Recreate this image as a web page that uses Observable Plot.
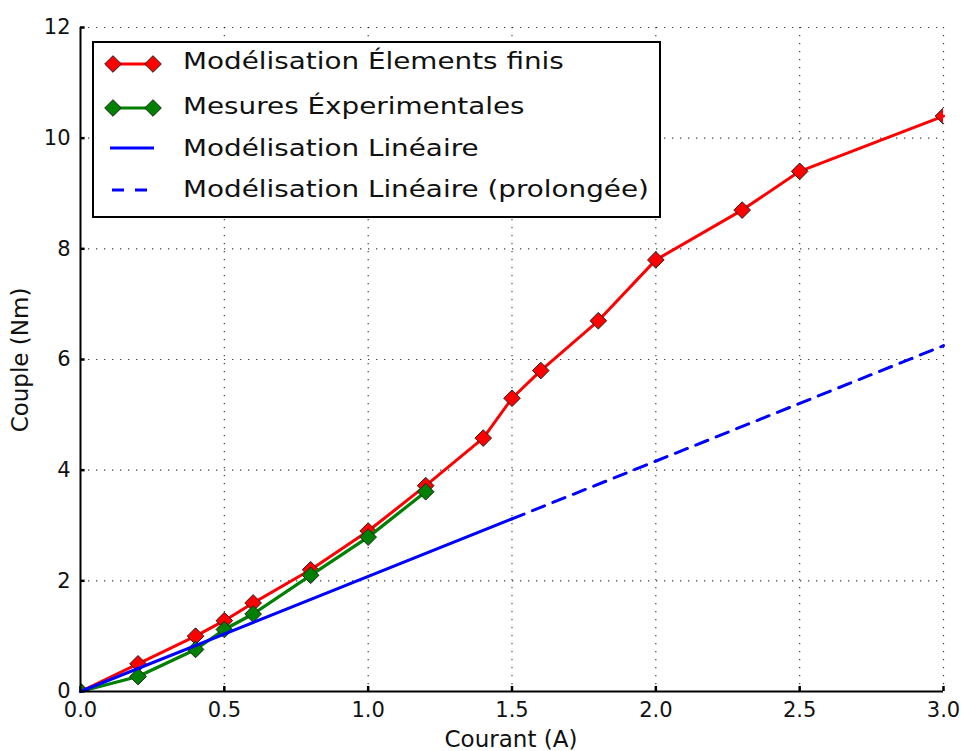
<!DOCTYPE html>
<html><head><meta charset="utf-8">
<script src="https://cdn.jsdelivr.net/npm/d3@7"></script>
<script src="https://cdn.jsdelivr.net/npm/@observablehq/plot@0.6"></script>
<style>body{margin:0;background:#fff}</style>
</head><body>
<div id="chart"></div>
<script>
// Data
const xFEM = [0, 0.2, 0.4, 0.5, 0.6, 0.8, 1.0, 1.2, 1.4, 1.5, 1.6, 1.8, 2.0, 2.3, 2.5, 3.0];
const yFEM = [0, 0.5, 1.0, 1.28, 1.6, 2.2, 2.9, 3.72, 4.58, 5.3, 5.8, 6.7, 7.8, 8.7, 9.4, 10.4];
const xExp = [0, 0.2, 0.4, 0.5, 0.6, 0.8, 1.0, 1.2];
const yExp = [0, 0.27, 0.76, 1.12, 1.4, 2.1, 2.79, 3.61];
const xLin = [0, 1.5];
const yLin = [0, 3.12];
const xExt = [1.5, 3.0];
const yExt = [3.12, 6.25];
const xTicks = [0, 0.5, 1.0, 1.5, 2.0, 2.5, 3.0];
const yTicks = [0, 2, 4, 6, 8, 10, 12];
const seriesNames = ["Modélisation Élements finis", "Mesures Éxperimentales", "Modélisation Linéaire", "Modélisation Linéaire (prolongée)"];
const seriesColors = ["#ff0000", "#008000", "#0000ff", "#0000ff"];
const xLabel = "Courant (A)";
const yLabel = "Couple (Nm)";

const toRows = (xs, ys) => xs.map((x, i) => ({x, y: ys[i]}));
const fem = toRows(xFEM, yFEM);
const exp = toRows(xExp, yExp);
const lin = toRows(xLin, yLin);
const ext = toRows(xExt, yExt);

const FONT = "DejaVu Sans";
const gridStyle = {stroke: "#000", strokeWidth: 1.2, strokeDasharray: "1.3,6.7", strokeOpacity: 0.75};
const dotStyle = {x: "x", y: "y", symbol: "diamond2", r: 7.5, stroke: "#222", strokeWidth: 1, clip: true};

const chart = Plot.plot({
  width: 961, height: 751,
  marginLeft: 80, marginRight: 18, marginTop: 27, marginBottom: 60,
  style: {fontFamily: FONT, fontSize: "20px", color: "#111", background: "white", overflow: "visible"},
  x: {domain: [0, 3], label: null},
  y: {domain: [0, 12], label: null},
  marks: [
    Plot.axisX({ticks: xTicks, tickFormat: d3.format(".1f"), tickSize: 0, tickPadding: 11, fontSize: 21, label: null, fill: "#111"}),
    Plot.axisY({ticks: yTicks, tickFormat: d3.format("d"), tickSize: 0, tickPadding: 10, fontSize: 21, label: null, fill: "#111"}),
    Plot.ruleX(xTicks.filter(d => d > 0), gridStyle),
    Plot.ruleY(yTicks.filter(d => d > 0), gridStyle),
    Plot.ruleX(xTicks, {x: d => d, y1: 0, y2: 0.09, stroke: "#000", strokeWidth: 2.5}),
    Plot.ruleY(yTicks, {y: d => d, x1: 0, x2: 0.016, stroke: "#000", strokeWidth: 2.5}),
    Plot.line(fem, {x: "x", y: "y", stroke: seriesColors[0], strokeWidth: 3}),
    Plot.dot(fem, {...dotStyle, fill: seriesColors[0]}),
    Plot.line(exp, {x: "x", y: "y", stroke: seriesColors[1], strokeWidth: 3.2}),
    Plot.dot(exp, {...dotStyle, fill: seriesColors[1]}),
    Plot.line(lin, {x: "x", y: "y", stroke: seriesColors[2], strokeWidth: 3}),
    Plot.line(ext, {x: "x", y: "y", stroke: seriesColors[3], strokeWidth: 3, strokeDasharray: "13,9"}),
    Plot.ruleX([0], {stroke: "#000", strokeWidth: 2}),
    Plot.ruleY([0], {stroke: "#000", strokeWidth: 2})
  ]
});
document.getElementById("chart").appendChild(chart);

// Axis labels
const svg = d3.select(chart);
svg.append("text").attr("x", 511).attr("y", 747).attr("text-anchor", "middle")
  .attr("font-family", FONT).attr("font-size", 23).attr("fill", "#111").text(xLabel);
svg.append("text").attr("transform", "translate(28,360) rotate(-90)").attr("text-anchor", "middle")
  .attr("font-family", FONT).attr("font-size", 23).attr("fill", "#111").text(yLabel);

// Legend
const lg = svg.append("g");
lg.append("rect").attr("x", 93).attr("y", 42).attr("width", 567).attr("height", 175)
  .attr("fill", "white").attr("stroke", "#000").attr("stroke-width", 2);
const rowsY = [64, 108, 148, 190];
const textY = [69, 114, 156, 197];
const diamond = d3.symbol(d3.symbolDiamond2, Math.PI * 7.5 * 7.5);
seriesNames.forEach((name, i) => {
  const y = rowsY[i];
  const line = lg.append("line").attr("x1", i < 2 ? 113 : 110).attr("x2", i < 2 ? 153 : 154)
    .attr("y1", y).attr("y2", y).attr("stroke", seriesColors[i]).attr("stroke-width", 3);
  if (i === 3) line.attr("x1", 112).attr("x2", 147).attr("stroke-dasharray", "12,11");
  if (i < 2) {
    [113, 153].forEach(cx => lg.append("path").attr("d", diamond())
      .attr("transform", `translate(${cx},${y})`).attr("fill", seriesColors[i])
      .attr("stroke", "#222").attr("stroke-width", 1));
  }
  lg.append("text").attr("transform", `translate(183,${textY[i]}) scale(1.21,1)`)
    .attr("text-anchor", "start")
    .attr("font-family", FONT).attr("font-size", 23).attr("fill", "#111").text(name);
});
</script>
</body></html>
